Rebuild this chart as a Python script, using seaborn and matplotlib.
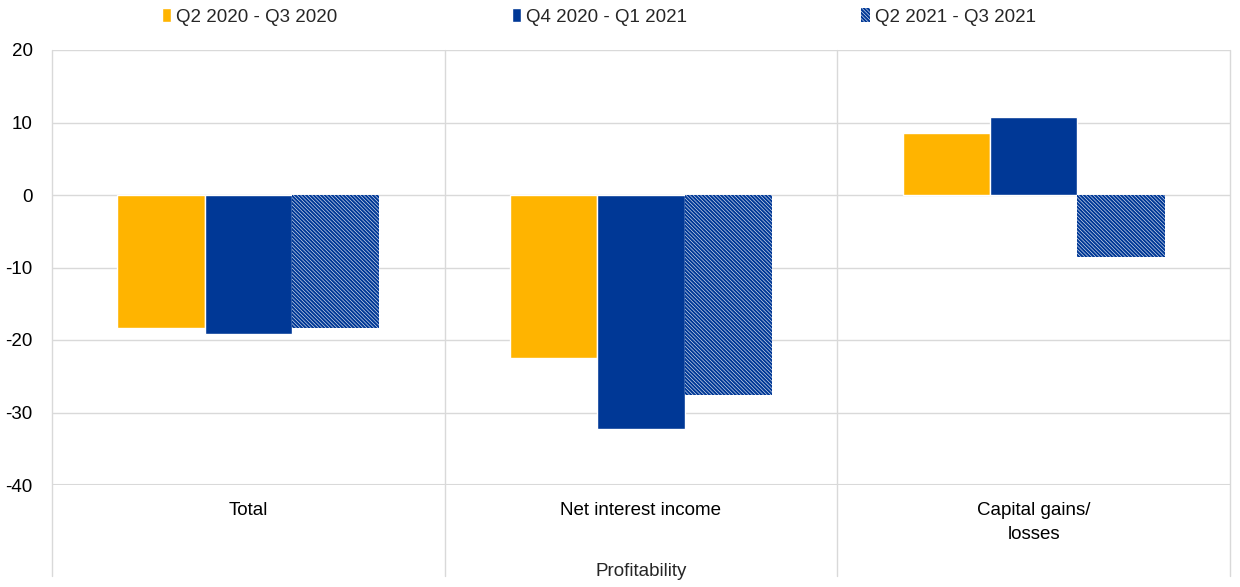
import pandas as pd
import matplotlib.pyplot as plt
import seaborn as sns
from matplotlib.patches import Patch

categories = ["Total", "Net interest income", "Capital gains/\nlosses"]
periods = ["Q2 2020 - Q3 2020", "Q4 2020 - Q1 2021", "Q2 2021 - Q3 2021"]
q2_2020 = [-18.3, -22.5, 8.6]
q4_2020 = [-19.2, -32.3, 10.8]
q2_2021 = [-18.3, -27.6, -8.6]

colors = ["#FFB400", "#003896", "#FFFFFF"]
blue = "#003896"
hatch = "\\" * 9

df = pd.DataFrame({
    "category": categories * 3,
    "period": [p for p in periods for _ in categories],
    "value": q2_2020 + q4_2020 + q2_2021,
})

sns.set_theme(style="white")
plt.rcParams["font.family"] = ["Liberation Sans", "DejaVu Sans"]
plt.rcParams["axes.unicode_minus"] = False
plt.rcParams["hatch.color"] = blue
plt.rcParams["hatch.linewidth"] = 1.5

fig = plt.figure(figsize=(12.4, 5.87), dpi=100)
ax = fig.add_axes([52 / 1240, 102 / 587, 1178 / 1240, 435 / 587])

sns.barplot(data=df, x="category", y="value", hue="period", palette=colors,
            width=0.667, gap=0, ax=ax, legend=False, saturation=1)
for bar in ax.containers[2]:
    bar.set_hatch(hatch)
    bar.set_edgecolor(blue)
    bar.set_linewidth(0)

ax.set_ylim(-40, 20)
ax.set_xlim(-0.5, 2.5)
ax.set_yticks(range(-40, 21, 10))
ax.yaxis.grid(True, color="#D9D9D9", linewidth=1)
ax.set_axisbelow(True)
for s in ax.spines.values():
    s.set_visible(False)
ax.tick_params(axis="both", length=0, labelsize=13.5, colors="black")
ax.tick_params(axis="x", pad=12)
ax.tick_params(axis="y", pad=14)
for lab in ax.get_xticklabels():
    lab.set_linespacing(1.6)
    lab.set_multialignment("center")
ax.set_xlabel("")
ax.set_ylabel("")

# category separator lines that run below the axis like a multi-level axis
for xb in [-0.5, 0.5, 1.5, 2.5]:
    ax.plot([xb, xb], [20, -52.5], color="#D9D9D9", linewidth=1, clip_on=False, zorder=0)
ax.axhline(-40, color="#D9D9D9", linewidth=1.5)

fig.text(641 / 1240, 1 - 572 / 587, "Profitability", ha="center", va="center", fontsize=13.5)

handles = [Patch(facecolor=colors[0]), Patch(facecolor=colors[1]),
           Patch(facecolor="white", hatch=hatch, edgecolor=blue, linewidth=0)]
fig.legend(handles, periods, loc="upper center", bbox_to_anchor=(0.483, 1.015), ncol=3,
           frameon=False, fontsize=13.5, handlelength=0.5, handleheight=0.8,
           handletextpad=0.25, columnspacing=9.3)

fig.savefig("out.png", dpi=100)
